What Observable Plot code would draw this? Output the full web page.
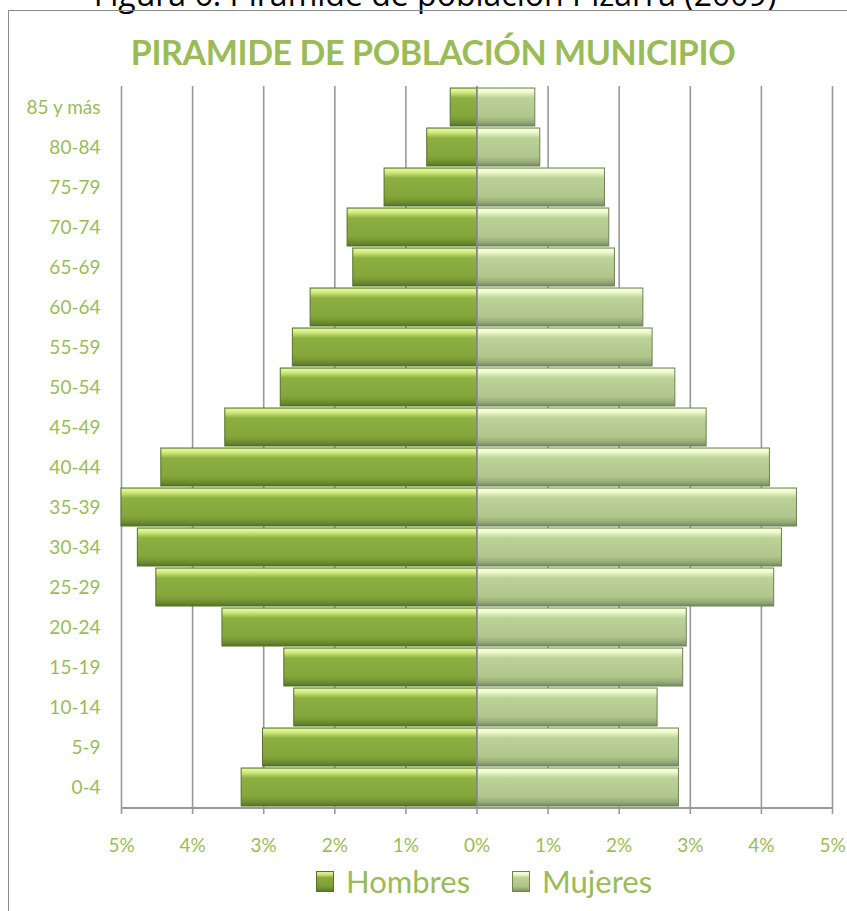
<!DOCTYPE html>
<html>
<head>
<meta charset="utf-8">
<script src="https://cdn.jsdelivr.net/npm/d3@7"></script>
<script src="https://cdn.jsdelivr.net/npm/@observablehq/plot@0.6"></script>
<style>
  html, body { margin: 0; padding: 0; background: #fff; }
  body { width: 847px; height: 911px; position: relative; overflow: hidden; font-family: Lato, "Open Sans", sans-serif; }
  #caption { position: absolute; left: 0; width: 870px; top: -24px; line-height: 36px; text-align: center; font-size: 32px; color: #000; font-family: "Open Sans", Lato, sans-serif; }
  #frame { position: absolute; left: 8px; top: 10px; width: 900px; height: 960px; border: 1px solid #8c8c8c; box-sizing: border-box; }
  #title { position: absolute; left: 0; width: 866px; top: 31px; text-align: center; font-size: 34px; font-weight: bold; color: #9BBB59; font-family: Lato, sans-serif; letter-spacing: -0.4px; }
  #chart { position: absolute; left: 0; top: 0; }
  #axisline { position: absolute; left: 121px; width: 712px; top: 807px; height: 2px; background: #999; }
  #legend { position: absolute; top: 862px; left: 316px; display: flex; align-items: center; font-size: 31px; color: #9BBB59; font-family: Lato, sans-serif; }
  .item { display: flex; align-items: center; }
  .sw { width: 18px; height: 21px; margin-right: 12px; box-sizing: border-box; }
</style>
</head>
<body>
<div id="caption">Figura 6. Pirámide de población Pizarra (2009)</div>
<div id="frame"></div>
<div id="title">PIRAMIDE DE POBLACIÓN MUNICIPIO</div>
<div id="chart"></div>
<div id="axisline"></div>
<div id="legend">
  <div class="item" style="margin-right:42px"><div class="sw" style="background: linear-gradient(#E0F59A 0%, #C4E06A 15%, #89AB3C 30%, #7E9F36 75%, #5C7A28 100%); border:1px solid #55702A"></div>Hombres</div>
  <div class="item"><div class="sw" style="background: linear-gradient(#FAFFE0 0%, #E8F5C0 15%, #BBD195 30%, #AFC68A 75%, #7F9463 100%); border:1px solid #6E8256"></div>Mujeres</div>
</div>
<script>
const ages = ["85 y más","80-84","75-79","70-74","65-69","60-64","55-59","50-54","45-49","40-44","35-39","30-34","25-29","20-24","15-19","10-14","5-9","0-4"];
const hombres = [0.37,0.70,1.30,1.82,1.74,2.34,2.59,2.76,3.54,4.44,5.00,4.77,4.51,3.58,2.71,2.57,3.01,3.31];
const mujeres = [0.82,0.89,1.80,1.86,1.94,2.34,2.47,2.79,3.23,4.12,4.50,4.29,4.18,2.95,2.90,2.54,2.84,2.84];
const xTicks = [-5,-4,-3,-2,-1,0,1,2,3,4,5];

const rows = ages.flatMap((a, i) => [
  {age: a, sexo: "Hombres", v: -hombres[i]},
  {age: a, sexo: "Mujeres", v: mujeres[i]}
]);

const green = "#9BBB59";
const plot = Plot.plot({
  width: 847,
  height: 870,
  marginLeft: 121,
  marginRight: 15,
  marginTop: 86,
  marginBottom: 62,
  style: {background: "transparent", fontFamily: "Lato, sans-serif"},
  x: {domain: [-5, 5], ticks: xTicks, label: null, clamp: true},
  y: {domain: ages, label: null, padding: 0.05},
  marks: [
    Plot.ruleX(xTicks, {stroke: "#999", strokeWidth: 1.6}),
    Plot.barX(rows.filter(d => d.sexo === "Hombres"), {x1: 0, x2: "v", y: "age", fill: "url(#gH)", stroke: "#55702A", strokeWidth: 1}),
    Plot.barX(rows.filter(d => d.sexo === "Mujeres"), {x1: 0, x2: "v", y: "age", fill: "url(#gM)", stroke: "#6E8256", strokeWidth: 1}),
    Plot.ruleX([0], {stroke: "#8a8a8a", strokeWidth: 1.6}),
    Plot.axisY({anchor: "left", tickSize: 0, tickPadding: 21, fontSize: 19, fill: green, label: null}),
    Plot.axisX(xTicks, {anchor: "bottom", tickSize: 6, tickPadding: 24, fontSize: 19, fill: green, stroke: "#999", strokeWidth: 1.6, tickFormat: d => Math.abs(d) + "%", label: null})
  ]
});

const svg = d3.select(plot);
const defs = svg.insert("defs", ":first-child");
const gH = defs.append("linearGradient").attr("id", "gH").attr("x1", 0).attr("x2", 0).attr("y1", 0).attr("y2", 1);
[[0, "#C9E87A"], [0.05, "#E2F7A2"], [0.14, "#C7E36F"], [0.26, "#8EB042"], [0.75, "#83A53A"], [0.9, "#6E8E30"], [1, "#55722A"]]
  .forEach(([o, c]) => gH.append("stop").attr("offset", o).attr("stop-color", c));
const gM = defs.append("linearGradient").attr("id", "gM").attr("x1", 0).attr("x2", 0).attr("y1", 0).attr("y2", 1);
[[0, "#DDEFB5"], [0.05, "#FBFFE2"], [0.14, "#E6F3C0"], [0.26, "#BCD298"], [0.75, "#B0C78C"], [0.9, "#95A977"], [1, "#74875C"]]
  .forEach(([o, c]) => gM.append("stop").attr("offset", o).attr("stop-color", c));

document.getElementById("chart").appendChild(plot);
</script>
</body>
</html>
